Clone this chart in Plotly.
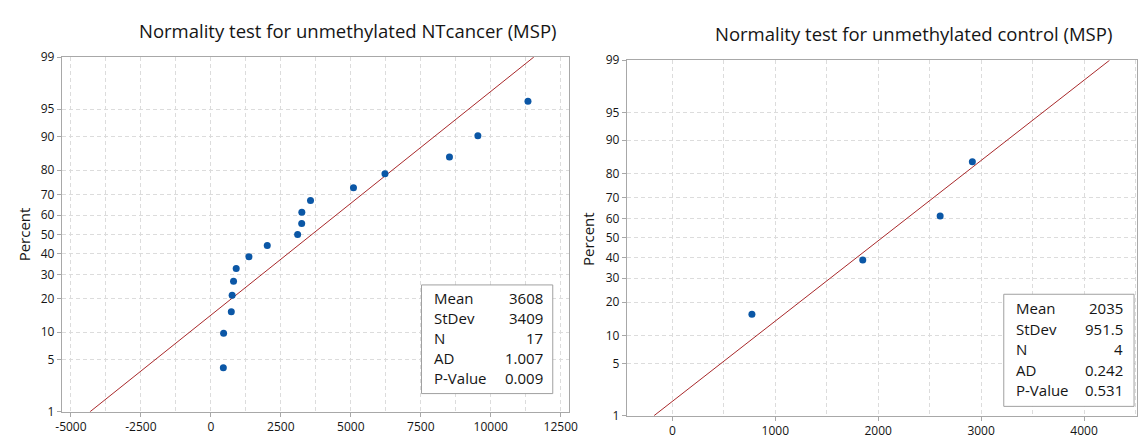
import plotly.graph_objects as go
from statistics import NormalDist

W, H = 1147, 441
FONT = "Open Sans"
INK = "#151515"

# ---- data -------------------------------------------------------------
# unmethylated NTcancer (MSP), sorted ascending
cancer_values = [445, 455, 730, 760, 810, 905, 1360, 2015, 3100, 3245,
                 3250, 3560, 5095, 6220, 8525, 9540, 11330]
# unmethylated control (MSP), sorted ascending
control_values = [773, 1850, 2602, 2915]

# summary statistics printed in the legend boxes
stat_labels = ["Mean", "StDev", "N", "AD", "P-Value"]
cancer_stat_text = ["3608", "3409", "17", "1.007", "0.009"]
control_stat_text = ["2035", "951.5", "4", "0.242", "0.531"]
cancer_mean, cancer_sd = 3608, 3409
control_mean, control_sd = 2035, 951.5

# axis ticks
percent_ticks = [1, 5, 10, 20, 30, 40, 50, 60, 70, 80, 90, 95, 99]
cancer_xticks = [-5000, -2500, 0, 2500, 5000, 7500, 10000, 12500]
control_xticks = [0, 1000, 2000, 3000, 4000]

titles = ["Normality test for unmethylated NTcancer (MSP)",
          "Normality test for unmethylated control (MSP)"]

# ---- helpers ----------------------------------------------------------
nd = NormalDist()


def z(p):
    """Percent -> standard normal quantile (probability-paper scale)."""
    return nd.inv_cdf(p / 100.0)


def median_rank_z(n):
    """Median-rank plotting positions (i-0.3)/(n+0.4) as z-scores."""
    return [nd.inv_cdf((i - 0.3) / (n + 0.4)) for i in range(1, n + 1)]


def px(xp):
    return xp / W


def py(yp):
    return 1 - yp / H


Z_LO, Z_HI = z(percent_ticks[0]), z(percent_ticks[-1])

fig = go.Figure()

panels = [
    dict(vals=cancer_values, mean=cancer_mean, sd=cancer_sd, xa="x", ya="y"),
    dict(vals=control_values, mean=control_mean, sd=control_sd, xa="x2", ya="y2"),
]

for p in panels:
    # fitted normal line from 1% to 99%
    fig.add_trace(go.Scatter(
        x=[p["mean"] + Z_LO * p["sd"], p["mean"] + Z_HI * p["sd"]],
        y=[Z_LO, Z_HI], mode="lines",
        line=dict(color="#A8282A", width=1),
        xaxis=p["xa"], yaxis=p["ya"], hoverinfo="skip", showlegend=False))
    # observations
    fig.add_trace(go.Scatter(
        x=p["vals"], y=median_rank_z(len(p["vals"])), mode="markers",
        marker=dict(color="#0B57A6", size=7, line=dict(width=0)),
        xaxis=p["xa"], yaxis=p["ya"], showlegend=False))

GRID = "#DCDCDC"
FRAME = "#A8A8A8"
DASH = "4px,3px"

common_x = dict(showline=True, mirror=True, linecolor=FRAME, linewidth=1,
                ticks="outside", ticklen=4, tickcolor=FRAME,
                showgrid=True, gridcolor=GRID, griddash=DASH, gridwidth=1,
                zeroline=False, tickfont=dict(family=FONT, size=12, color=INK))
common_y = dict(showline=True, mirror=True, linecolor=FRAME, linewidth=1,
                ticks="outside", ticklen=4, tickcolor=FRAME,
                showgrid=True, gridcolor=GRID, griddash=DASH, gridwidth=1,
                zeroline=False, range=[Z_LO, Z_HI],
                tickmode="array", tickvals=[z(t) for t in percent_ticks],
                ticktext=[str(t) for t in percent_ticks],
                tickfont=dict(family=FONT, size=12, color=INK))

fig.update_layout(
    width=W, height=H, margin=dict(l=0, r=0, t=0, b=0),
    paper_bgcolor="white", plot_bgcolor="white",
    font=dict(family=FONT, color=INK),
    xaxis=dict(common_x, domain=[px(56.5), px(570)], anchor="y",
               range=[-5328, 12780], tickmode="array", tickvals=cancer_xticks,
               ticktext=[str(t) for t in cancer_xticks],
               minor=dict(tickmode="linear", tick0=0, dtick=1250, showgrid=True,
                          gridcolor=GRID, griddash=DASH, gridwidth=1, ticks="")),
    yaxis=dict(common_y, domain=[py(419), py(50)], anchor="x"),
    xaxis2=dict(common_x, domain=[px(629), px(1146)], anchor="y2",
                range=[-443, 4515], tickmode="array", tickvals=control_xticks,
                ticktext=[str(t) for t in control_xticks],
                minor=dict(tickmode="linear", tick0=0, dtick=500, showgrid=True,
                           gridcolor=GRID, griddash=DASH, gridwidth=1, ticks="")),
    yaxis2=dict(common_y, domain=[py(423), py(53.3)], anchor="x2"),
)

# panel titles
for text, cx, cy in [(titles[0], 346, 22), (titles[1], 920, 25)]:
    fig.add_annotation(text=text, x=px(cx), y=py(cy), xref="paper", yref="paper",
                       xanchor="center", yanchor="middle", showarrow=False,
                       font=dict(family=FONT, size=18.5, color=INK))

# y-axis titles
for cx, cy in [(18.6, 234), (590, 239)]:
    fig.add_annotation(text="Percent", x=px(cx), y=py(cy), xref="paper", yref="paper",
                       xanchor="center", yanchor="middle", showarrow=False, textangle=-90,
                       font=dict(family=FONT, size=15, color=INK))

# statistics boxes (rows evenly spaced inside each box)
boxes = [
    dict(x0=421, x1=554, y0=287, y1=400, lx=432, rx=546, top=301, step=20.8,
         vals=cancer_stat_text),
    dict(x0=1011, x1=1143, y0=296.7, y1=413.3, lx=1021, rx=1134, top=311.5, step=21.3,
         vals=control_stat_text),
]
for b in boxes:
    fig.add_shape(type="rect", xref="paper", yref="paper",
                  x0=px(b["x0"]), x1=px(b["x1"]), y0=py(b["y1"]), y1=py(b["y0"]),
                  line=dict(color="#A0A0A0", width=1), fillcolor="white", layer="above")
    for k, (lab, val) in enumerate(zip(stat_labels, b["vals"])):
        ry = b["top"] + k * b["step"]
        fig.add_annotation(text=lab, x=px(b["lx"]), y=py(ry), xref="paper", yref="paper",
                           xanchor="left", yanchor="middle", showarrow=False,
                           font=dict(family=FONT, size=15, color=INK))
        fig.add_annotation(text=val, x=px(b["rx"]), y=py(ry), xref="paper", yref="paper",
                           xanchor="right", yanchor="middle", showarrow=False,
                           font=dict(family=FONT, size=15, color=INK))

fig.write_html("out.html")
